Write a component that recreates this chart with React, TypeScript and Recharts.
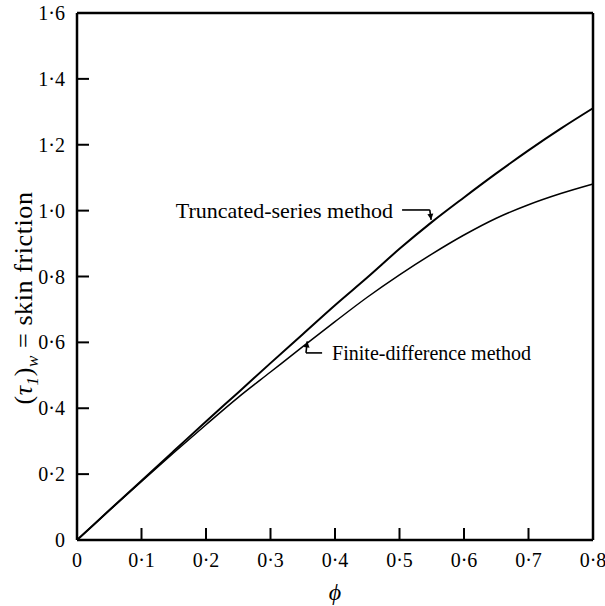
import React from 'react';
import { LineChart, Line, XAxis, YAxis, ReferenceLine } from 'recharts';

// phi values (x)
const phi = [0, 0.05, 0.1, 0.15, 0.2, 0.25, 0.3, 0.35, 0.4, 0.45, 0.5, 0.55, 0.6, 0.65, 0.7, 0.75, 0.8];
// Truncated-series method skin friction
const truncatedSeries = [0, 0.09, 0.18, 0.27, 0.36, 0.448, 0.537, 0.625, 0.713, 0.797, 0.884, 0.965, 1.04, 1.113, 1.183, 1.249, 1.311];
// Finite-difference method skin friction
const finiteDifference = [0, 0.09, 0.178, 0.265, 0.35, 0.433, 0.51, 0.587, 0.663, 0.737, 0.805, 0.868, 0.926, 0.977, 1.018, 1.052, 1.081];

const xTicks = [0, 0.1, 0.2, 0.3, 0.4, 0.5, 0.6, 0.7, 0.8];
const xTickLabels = ['0', '0·1', '0·2', '0·3', '0·4', '0·5', '0·6', '0·7', '0·8'];
const yTicks = [0, 0.2, 0.4, 0.6, 0.8, 1.0, 1.2, 1.4, 1.6];
const yTickLabels = ['0', '0·2', '0·4', '0·6', '0·8', '1·0', '1·2', '1·4', '1·6'];

const truncatedLabel = 'Truncated-series method';
const finiteLabel = 'Finite-difference method';

const data = phi.map((p, i) => ({ phi: p, truncated: truncatedSeries[i], finite: finiteDifference[i] }));

const FONT = '"Liberation Serif", "Times New Roman", serif';

const findIdx = (arr: number[], v: number) => arr.findIndex((a) => Math.abs(a - v) < 1e-9);

const XTick = (props: any) => {
  const { x, y, payload } = props;
  const i = findIdx(xTicks, payload.value);
  return (
    <g>
      <line x1={x} y1={y} x2={x} y2={y - 12} stroke="#000" strokeWidth={2} />
      <text x={x} y={y + 27} textAnchor="middle" fontFamily={FONT} fontSize={20} fill="#000">
        {xTickLabels[i]}
      </text>
    </g>
  );
};

const YTick = (props: any) => {
  const { x, y, payload } = props;
  const i = findIdx(yTicks, payload.value);
  return (
    <g>
      <line x1={x} y1={y} x2={x + 12} y2={y} stroke="#000" strokeWidth={2} />
      <text x={x - 12} y={y + 7} textAnchor="end" fontFamily={FONT} fontSize={20} fill="#000">
        {yTickLabels[i]}
      </text>
    </g>
  );
};

const Seg = (opts: { head?: boolean; text?: string; anchor?: 'start' | 'end'; dx?: number; dy?: number; fs?: number }) => (props: any) => {
  const { x1, y1, x2, y2 } = props;
  let head = null;
  if (opts.head) {
    const ang = Math.atan2(y2 - y1, x2 - x1);
    const L = 6;
    const W = 3;
    const bx = x2 - L * Math.cos(ang);
    const by = y2 - L * Math.sin(ang);
    const px = -Math.sin(ang) * W;
    const py = Math.cos(ang) * W;
    head = <polygon points={`${x2},${y2} ${bx + px},${by + py} ${bx - px},${by - py}`} fill="#000" />;
  }
  return (
    <g>
      <line x1={x1} y1={y1} x2={x2} y2={y2} stroke="#000" strokeWidth={1.6} />
      {head}
      {opts.text ? (
        <text x={x1 + (opts.dx || 0)} y={y1 + (opts.dy || 0)} textAnchor={opts.anchor || 'start'} fontFamily={FONT} fontSize={opts.fs || 21} fill="#000">
          {opts.text}
        </text>
      ) : null}
    </g>
  );
};

const YLabel = () => (
  <text transform="translate(32,298) rotate(-90)" textAnchor="middle" fontFamily={FONT} fontSize={26} letterSpacing={0.6} fill="#000">
    (<tspan fontStyle="italic">τ</tspan>
    <tspan fontStyle="italic" fontSize={17} dy={6}>1</tspan>
    <tspan dy={-6}>)</tspan>
    <tspan fontStyle="italic" fontSize={17} dy={6}>w</tspan>
    <tspan dy={-6}> = skin friction</tspan>
  </text>
);

const XLabel = () => (
  <text x={335} y={600} textAnchor="middle" fontFamily={FONT} fontSize={24} fontStyle="italic" fill="#000">
    ϕ
  </text>
);

export default function App() {
  return (
    <div style={{ position: 'absolute', left: 0, top: 0, background: '#fff' }}>
      <LineChart width={605} height={606} data={data} margin={{ top: 13, right: 12, bottom: 36, left: 17 }}>
        <XAxis
          dataKey="phi"
          type="number"
          domain={[0, 0.8]}
          ticks={xTicks}
          height={30}
          tickSize={0}
          tickMargin={0}
          tickLine={false}
          axisLine={{ stroke: '#000', strokeWidth: 2.5 }}
          tick={<XTick />}
          interval={0}
          label={{ content: () => <XLabel /> }}
        />
        <YAxis
          type="number"
          domain={[0, 1.6]}
          ticks={yTicks}
          width={60}
          tickSize={0}
          tickMargin={0}
          tickLine={false}
          axisLine={{ stroke: '#000', strokeWidth: 2.5 }}
          tick={<YTick />}
          interval={0}
          label={{ content: () => <YLabel /> }}
        />
        <ReferenceLine y={1.6} stroke="#000" strokeWidth={2.5} />
        <ReferenceLine x={0.8} stroke="#000" strokeWidth={2.5} />
        <Line type="monotone" dataKey="truncated" stroke="#000" strokeWidth={2} dot={false} isAnimationActive={false} />
        <Line type="monotone" dataKey="finite" stroke="#000" strokeWidth={1.5} dot={false} isAnimationActive={false} />
        <ReferenceLine
          segment={[{ x: 0.504, y: 1.002 }, { x: 0.547, y: 1.002 }]}
          shape={Seg({ text: truncatedLabel, anchor: 'end', dx: -9, dy: 8, fs: 22 })}
        />
        <ReferenceLine segment={[{ x: 0.547, y: 1.002 }, { x: 0.549, y: 0.972 }]} shape={Seg({ head: true })} />
        <ReferenceLine
          segment={[{ x: 0.38, y: 0.568 }, { x: 0.355, y: 0.568 }]}
          shape={Seg({ text: finiteLabel, anchor: 'start', dx: 10, dy: 7, fs: 20 })}
        />
        <ReferenceLine segment={[{ x: 0.355, y: 0.568 }, { x: 0.357, y: 0.603 }]} shape={Seg({ head: true })} />
      </LineChart>
    </div>
  );
}
